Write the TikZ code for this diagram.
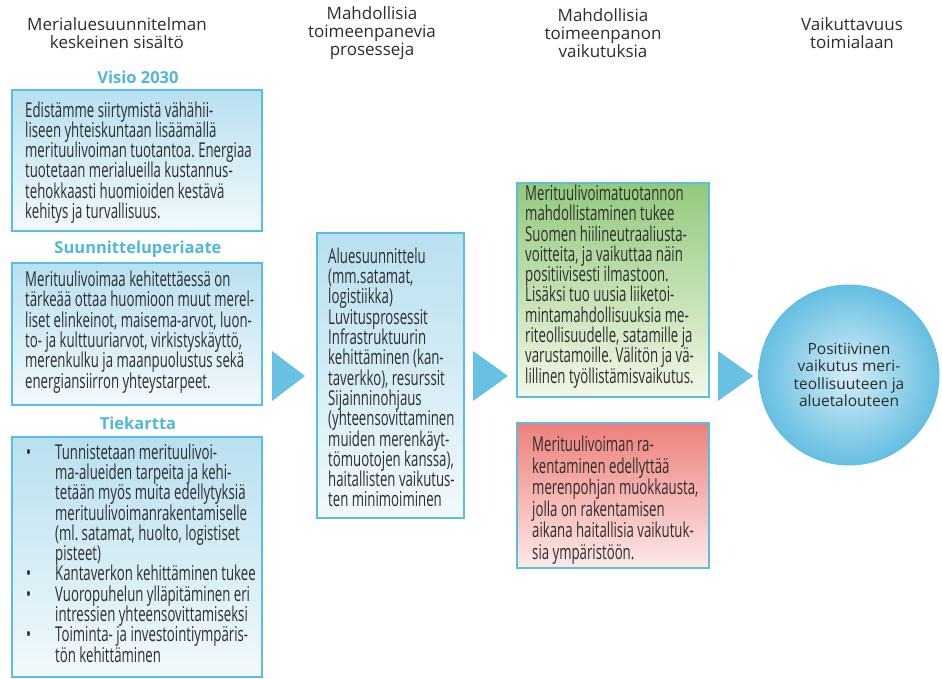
\documentclass[tikz,border=0pt]{standalone}
\usepackage{fontspec}
\setmainfont{Open Sans}
\newfontfamily\condfont[FakeStretch=0.645]{Open Sans}
\frenchspacing
\newcommand\tightlines{\lineskiplimit=-5pt\relax}
\definecolor{txt}{RGB}{45,45,45}
\definecolor{boxblue}{RGB}{92,190,222}
\definecolor{ttlblue}{RGB}{80,184,216}
\definecolor{arrowblue}{RGB}{104,192,226}
\definecolor{bluetop}{RGB}{184,224,240}
\definecolor{bluebot}{RGB}{242,249,252}
\definecolor{greentop}{RGB}{146,202,124}
\definecolor{greenbot}{RGB}{243,247,232}
\definecolor{redtop}{RGB}{238,128,122}
\definecolor{redbot}{RGB}{252,234,234}
\definecolor{ballin}{RGB}{214,238,248}
\definecolor{ballout}{RGB}{100,190,225}
\begin{document}
\begin{tikzpicture}[x=1pt,y=-1pt,
    head/.style={font=\fontsize{17}{18}\selectfont,text=txt,align=center},
    ttl/.style={font=\bfseries\fontsize{16.5}{18}\selectfont,text=ttlblue},
    infobox/.style={draw=boxblue,line width=2.5pt,anchor=north west,outer sep=0pt,
        top color=bluetop,bottom color=bluebot},
    boxtext/.style={anchor=west,align=left,inner sep=0pt,text=txt,
        font=\condfont\fontsize{20.5}{20.3}\selectfont\tightlines}]
    \useasboundingbox (0,0) rectangle (942,679);
    \newcommand\bl{\makebox[30pt][l]{\hspace{1pt}•}}
    \newcommand\ind{\hspace*{30pt}}
    % otsikot
    \node[head] (h1) at (117,33) {Merialuesuunnitelman\\keskeinen sisältö};
    \node[head] (h2) at (372,33) {Mahdollisia\\toimeenpanevia\\prosesseja};
    \node[head] (h3) at (603,33) {Mahdollisia\\toimeenpanon\\vaikutuksia};
    \node[head] (h4) at (852,33) {Vaikuttavuus\\toimialaan};
    \node[ttl] (t1) at (138,77) {Visio 2030};
    \node[ttl] (t2) at (138,249) {Suunnitteluperiaate};
    \node[ttl] (t3) at (138,423) {Tiekartta};
    % laatikot
    \node[infobox,minimum width=250pt,minimum height=141pt] (visio) at (12,90) {};
    \node[infobox,minimum width=250pt,minimum height=142pt] (periaate) at (12,263) {};
    \node[infobox,minimum width=250pt,minimum height=240pt] (tiekartta) at (12,437) {};
    \node[infobox,minimum width=147pt,minimum height=285pt] (prosessit) at (317,233) {};
    \node[infobox,minimum width=192pt,minimum height=214pt,top color=greentop,bottom color=greenbot] (hyoty) at (517,183) {};
    \node[infobox,minimum width=192pt,minimum height=145pt,top color=redtop,bottom color=redbot] (haitta) at (517,423) {};
    \node[boxtext] (visiotxt) at ([xshift=13pt,yshift=-2pt]visio.west)
        {Edistämme siirtymistä vähähii-\\liseen yhteiskuntaan lisäämällä\\merituulivoiman tuotantoa. Energiaa\\tuotetaan merialueilla kustannus-\\tehokkaasti huomioiden kestävä\\kehitys ja turvallisuus.};
    \node[boxtext] (periaatetxt) at ([xshift=13pt,yshift=2pt]periaate.west)
        {Merituulivoimaa kehitettäessä on\\tärkeää ottaa huomioon muut merel-\\liset elinkeinot, maisema-arvot, luon-\\to- ja kulttuuriarvot, virkistyskäyttö,\\merenkulku ja maanpuolustus sekä\\energiansiirron yhteystarpeet.};
    \node[boxtext] (tiekarttatxt) at ([xshift=13pt,yshift=4pt]tiekartta.west)
        {\bl Tunnistetaan merituulivoi-\\\ind ma-alueiden tarpeita ja kehi-\\\ind tetään myös muita edellytyksiä\\\ind merituulivoimanrakentamiselle\\\ind (ml. satamat, huolto, logistiset\\\ind pisteet)\\\bl Kantaverkon kehittäminen tukee\\\bl Vuoropuhelun ylläpitäminen eri\\\ind intressien yhteensovittamiseksi\\\bl Toiminta- ja investointiympäris-\\\ind tön kehittäminen};
    \node[boxtext] (prosessittxt) at ([xshift=11pt,yshift=-2pt]prosessit.west)
        {Aluesuunnittelu\\(mm.satamat,\\logistiikka)\\Luvitusprosessit\\Infrastruktuurin\\kehittäminen (kan-\\taverkko), resurssit\\Sijainninohjaus\\(yhteensovittaminen\\muiden merenkäyt-\\tömuotojen kanssa),\\haitallisten vaikutus-\\ten minimoiminen};
    \node[boxtext] (hyotytxt) at ([xshift=8pt,yshift=3.5pt]hyoty.west)
        {Merituulivoimatuotannon\\mahdollistaminen tukee\\Suomen hiilineutraaliusta-\\voitteita, ja vaikuttaa näin\\positiivisesti ilmastoon.\\Lisäksi tuo uusia liiketoi-\\mintamahdollisuuksia me-\\riteollisuudelle, satamille ja\\varustamoille. Välitön ja vä-\\lillinen työllistämisvaikutus.};
    \node[boxtext,font=\condfont\fontsize{20.5}{21.5}\selectfont\tightlines] (haittatxt) at ([xshift=15pt,yshift=-4.5pt]haitta.west)
        {Merituulivoiman ra-\\kentaminen edellyttää\\merenpohjan muokkausta,\\jolla on rakentamisen\\aikana haitallisia vaikutuk-\\sia ympäristöön.};
    \node[circle,minimum size=181pt,inner color=ballin,outer color=ballout,text=txt,align=center,
        font=\fontsize{15.5}{17.5}\selectfont] (vaikutus) at (849,375)
        {Positiivinen\\vaikutus meri-\\teollisuuteen ja\\aluetalouteen};
    % nuolet
    \foreach \x/\w in {272/33,473/35,718/35}{\fill[arrowblue] (\x,351) -- ++(\w,25) -- ++(-\w,25) -- cycle;}
\end{tikzpicture}
\end{document}
